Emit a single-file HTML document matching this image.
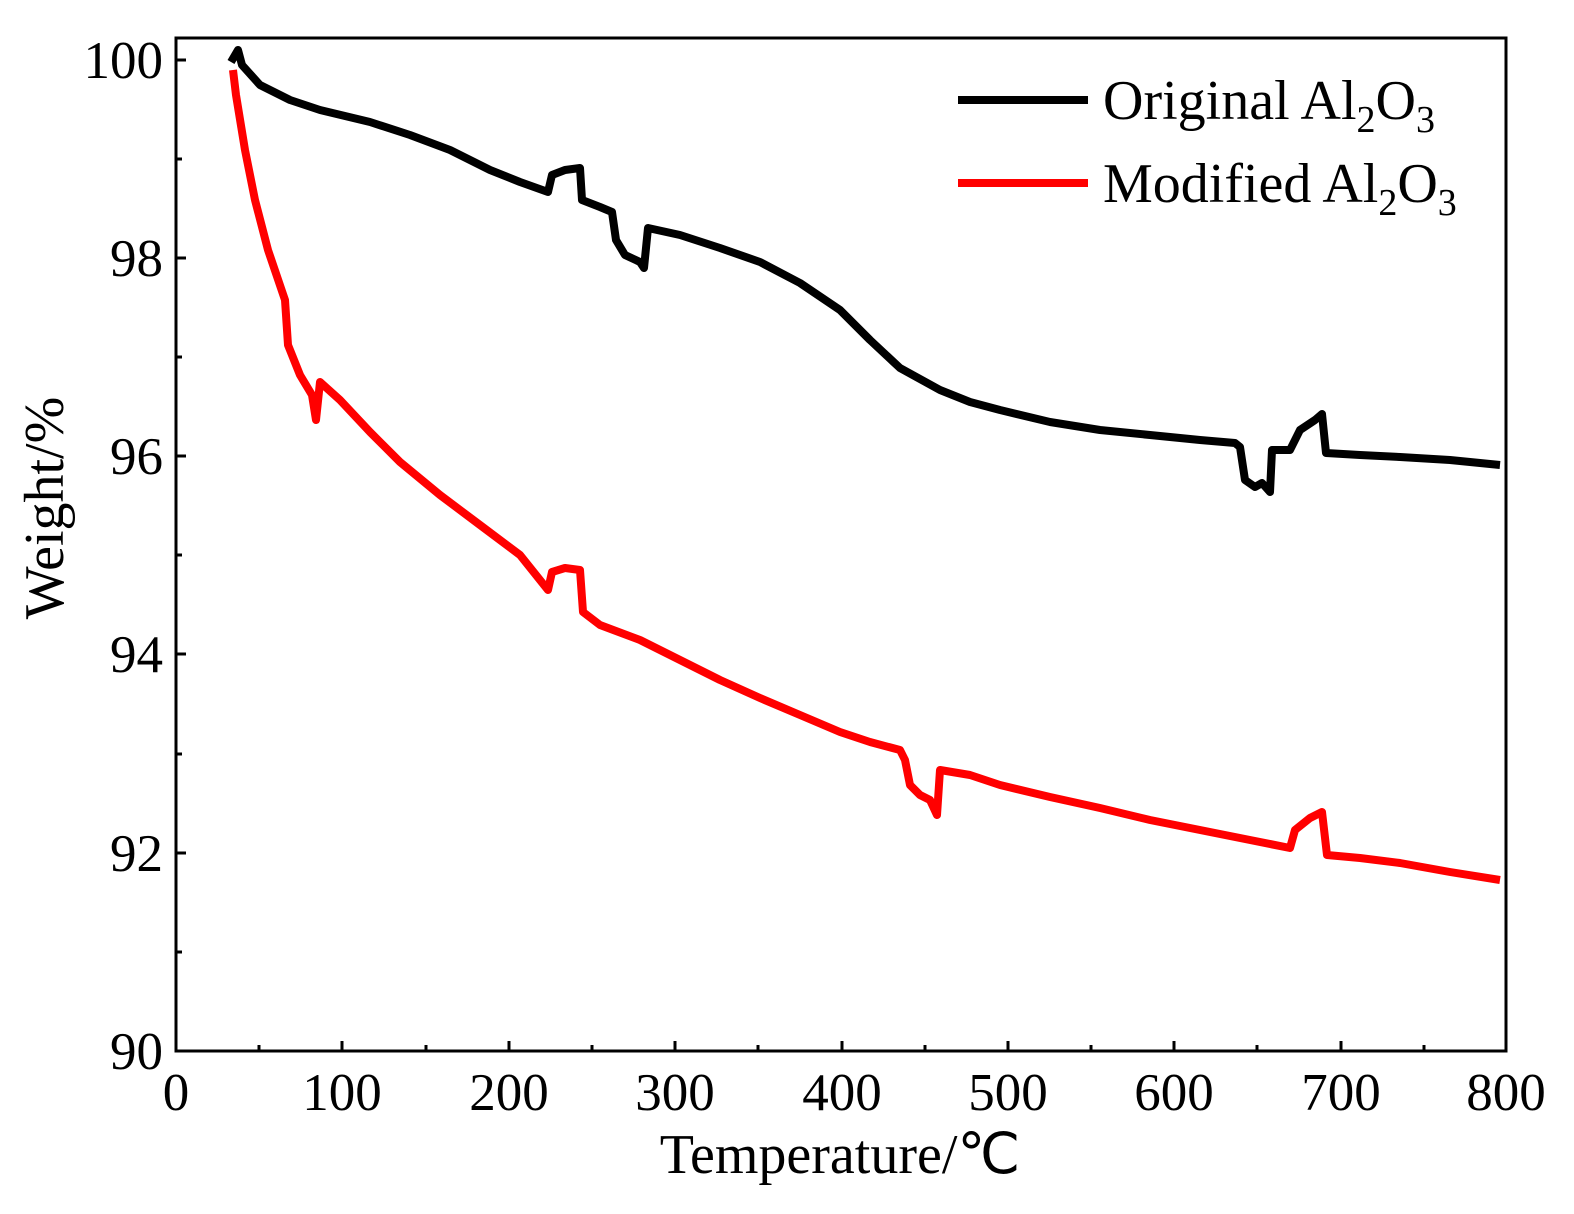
<!DOCTYPE html>
<html><head><meta charset="utf-8"><style>html,body{margin:0;padding:0;background:#fff}svg{display:block}</style></head>
<body>
<svg width="1574" height="1214" viewBox="0 0 1574 1214" xmlns="http://www.w3.org/2000/svg" font-family="Liberation Serif, serif">
<rect width="1574" height="1214" fill="#fff"/>
<g stroke="#000" stroke-width="3" fill="none">
<rect x="176" y="38" width="1330" height="1013"/>
<path d="M176 1051v-10M342 1051v-10M509 1051v-10M675 1051v-10M842 1051v-10M1008 1051v-10M1174 1051v-10M1341 1051v-10M1506 1051v-10
M259 1051v-6M426 1051v-6M592 1051v-6M758 1051v-6M925 1051v-6M1091 1051v-6M1257 1051v-6M1424 1051v-6"/>
<path d="M176 60h10M176 258h10M176 456h10M176 654h10M176 853h10M176 1051h10
M176 159h6M176 357h6M176 555h6M176 754h6M176 952h6"/>
</g>
<g font-size="53" text-anchor="middle">
<text x="176" y="1110">0</text><text x="342" y="1110">100</text><text x="509" y="1110">200</text><text x="675" y="1110">300</text><text x="842" y="1110">400</text><text x="1008" y="1110">500</text><text x="1174" y="1110">600</text><text x="1341" y="1110">700</text><text x="1506" y="1110">800</text>
</g>
<g font-size="53" text-anchor="end">
<text x="163" y="78">100</text><text x="163" y="276">98</text><text x="163" y="474">96</text><text x="163" y="672">94</text><text x="163" y="871">92</text><text x="163" y="1069">90</text>
</g>
<text x="840" y="1173" font-size="56" text-anchor="middle">Temperature/℃</text>
<text transform="translate(63,508) rotate(-90)" font-size="56" text-anchor="middle">Weight/%</text>
<polyline fill="none" stroke="#000" stroke-width="8" stroke-linejoin="round" points="231,62 238,50 242,65 260,85 290,100 320,110 370,122 410,135 450,150 490,170 520,182 548,192 552,175 565,170 580,168 582,200 600,207 612,212 616,240 625,255 640,262 644,268 648,228 680,235 720,248 760,262 800,283 840,310 870,340 900,368 940,390 970,402 1000,410 1050,422 1100,430 1150,435 1200,440 1235,443 1240,447 1245,480 1255,487 1262,483 1270,492 1272,450 1290,450 1300,430 1315,420 1322,414 1326,453 1360,455 1400,457 1450,460 1500,465"/>
<polyline fill="none" stroke="#f00" stroke-width="8" stroke-linejoin="round" points="233,70 236,95 245,150 255,200 268,250 285,300 288,345 300,375 312,395 316,420 320,382 340,400 370,432 400,462 440,495 480,525 520,555 548,590 552,572 565,568 580,570 583,612 600,625 640,640 680,660 720,680 760,698 800,715 840,732 870,742 900,750 905,760 910,785 920,795 930,800 937,815 940,770 970,775 1000,785 1050,797 1100,808 1150,820 1200,830 1250,840 1290,848 1295,830 1310,818 1322,812 1327,855 1360,858 1400,863 1450,872 1500,880"/>
<line x1="958" y1="100" x2="1088" y2="100" stroke="#000" stroke-width="8"/>
<line x1="958" y1="183" x2="1088" y2="183" stroke="#f00" stroke-width="8"/>
<text x="1103" y="119" font-size="56">Original Al<tspan font-size="38" dy="13">2</tspan><tspan dy="-13">O</tspan><tspan font-size="38" dy="13">3</tspan></text>
<text x="1103" y="202" font-size="56">Modified Al<tspan font-size="38" dy="13">2</tspan><tspan dy="-13">O</tspan><tspan font-size="38" dy="13">3</tspan></text>
</svg>
</body></html>
